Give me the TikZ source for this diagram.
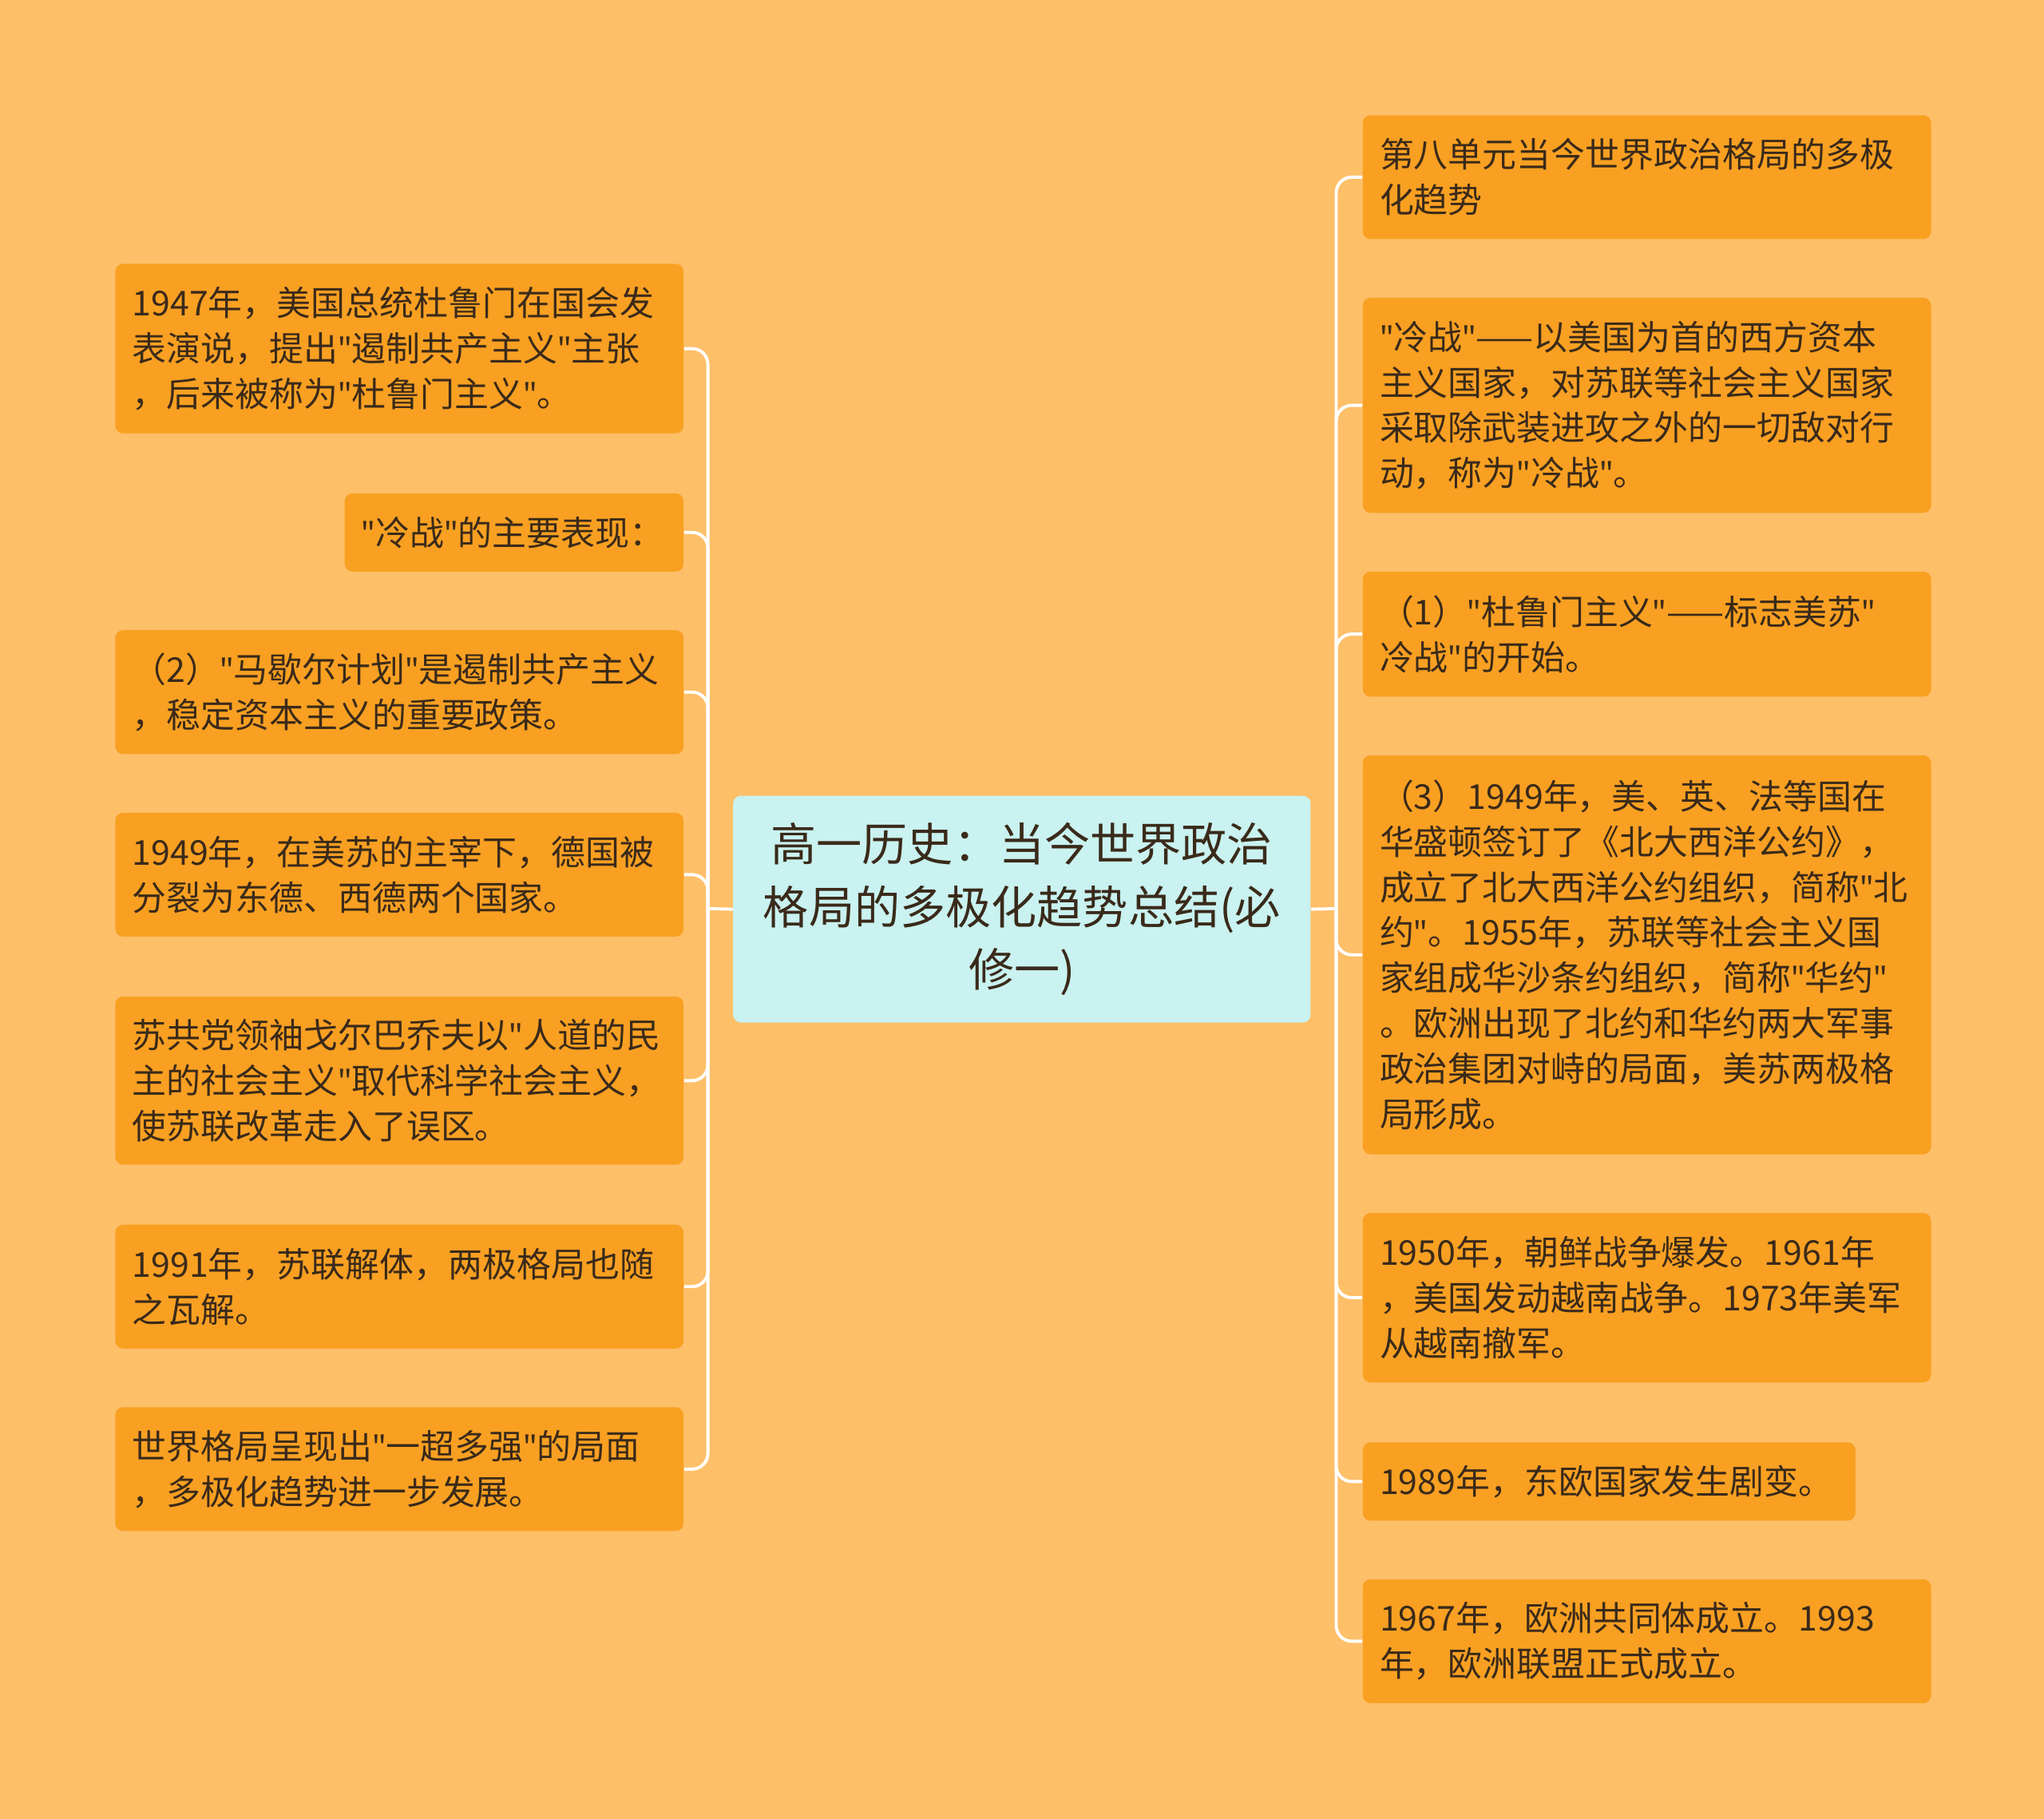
\documentclass[tikz,border=0pt]{standalone}
\usepackage{fontspec}
\setmainfont{Noto Sans CJK SC}
\newfontfamily\qf{Noto Sans}[Ligatures=ResetAll]
\newcommand{\qq}{{\qf\symbol{34}}}
\begin{document}
\begin{tikzpicture}[x=0.5pt,y=-0.5pt,
 bx/.style={fill=boxc,rounded corners=3pt,anchor=north west,align=left,inner xsep=6.5pt,inner ysep=0pt,text=txt,font=\fontsize{13.15}{17.4}\selectfont},
 conn/.style={draw=white,line width=1.2pt,rounded corners=6pt}]
\definecolor{bg}{HTML}{FDBF68}\definecolor{boxc}{HTML}{F9A022}\definecolor{txt}{HTML}{3A2A1A}\definecolor{cc}{HTML}{C9F2F0}
\fill[bg] (0,0) rectangle (1568,1395);
\node[bx,fill=cc,align=center,text width=213pt,minimum width=221.5pt,minimum height=87pt,font=\fontsize{17.5}{24}\selectfont,inner xsep=4.25pt] (c) at (562,610) {高一历史：当今世界政治\\格局的多极化趋势总结(必\\修一)};
\node[bx,minimum width=217.5pt,text width=205pt,minimum height=65pt] (l1) at (88,202) {1947年，美国总统杜鲁门在国会发\\表演说，提出\qq 遏制共产主义\qq 主张\\，后来被称为\qq 杜鲁门主义\qq 。};
\node[bx,minimum width=129.5pt,text width=117pt,minimum height=30pt] (l2) at (264,378) {\qq 冷战\qq 的主要表现：};
\node[bx,minimum width=217.5pt,text width=205pt,minimum height=47.5pt] (l3) at (88,483) {（2）\qq 马歇尔计划\qq 是遏制共产主义\\，稳定资本主义的重要政策。};
\node[bx,minimum width=217.5pt,text width=205pt,minimum height=47.5pt] (l4) at (88,623) {1949年，在美苏的主宰下，德国被\\分裂为东德、西德两个国家。};
\node[bx,minimum width=217.5pt,text width=205pt,minimum height=64.5pt] (l5) at (88,764) {苏共党领袖戈尔巴乔夫以\qq 人道的民\\主的社会主义\qq 取代科学社会主义，\\使苏联改革走入了误区。};
\node[bx,minimum width=217.5pt,text width=205pt,minimum height=47.5pt] (l6) at (88,939) {1991年，苏联解体，两极格局也随\\之瓦解。};
\node[bx,minimum width=217.5pt,text width=205pt,minimum height=47.5pt] (l7) at (88,1079) {世界格局呈现出\qq 一超多强\qq 的局面\\，多极化趋势进一步发展。};
\node[bx,minimum width=217pt,text width=205pt,minimum height=47.5pt] (r1) at (1045,88) {第八单元当今世界政治格局的多极\\化趋势};
\node[bx,minimum width=217pt,text width=205pt,minimum height=82.5pt] (r2) at (1045,228) {\qq 冷战\qq ——以美国为首的西方资本\\主义国家，对苏联等社会主义国家\\采取除武装进攻之外的一切敌对行\\动，称为\qq 冷战\qq 。};
\node[bx,minimum width=217pt,text width=205pt,minimum height=48pt] (r3) at (1045,438) {（1）\qq 杜鲁门主义\qq ——标志美苏\qq \\冷战\qq 的开始。};
\node[bx,minimum width=217pt,text width=205pt,minimum height=153pt] (r4) at (1045,579) {（3）1949年，美、英、法等国在\\华盛顿签订了《北大西洋公约》，\\成立了北大西洋公约组织，简称\qq 北\\约\qq 。1955年，苏联等社会主义国\\家组成华沙条约组织，简称\qq 华约\qq \\。欧洲出现了北约和华约两大军事\\政治集团对峙的局面，美苏两极格\\局形成。};
\node[bx,minimum width=217pt,text width=205pt,minimum height=65pt] (r5) at (1045,930) {1950年，朝鲜战争爆发。1961年\\，美国发动越南战争。1973年美军\\从越南撤军。};
\node[bx,minimum width=188pt,text width=176pt,minimum height=30pt] (r6) at (1045,1106) {1989年，东欧国家发生剧变。};
\node[bx,minimum width=217pt,text width=205pt,minimum height=47.5pt] (r7) at (1045,1211) {1967年，欧洲共同体成立。1993\\年，欧洲联盟正式成立。};
\coordinate (lt) at (543,697);\coordinate (rt) at (1025,697);
\draw[conn] (c.west) -- (lt);
\draw[conn] (c.east) -- (rt);
\foreach \n in {l1,l2,l3,l4,l5,l6,l7}{\draw[conn] (lt) |- (\n.east);}
\foreach \n in {r1,r2,r3,r4,r5,r6,r7}{\draw[conn] (rt) |- (\n.west);}
\end{tikzpicture}
\end{document}
